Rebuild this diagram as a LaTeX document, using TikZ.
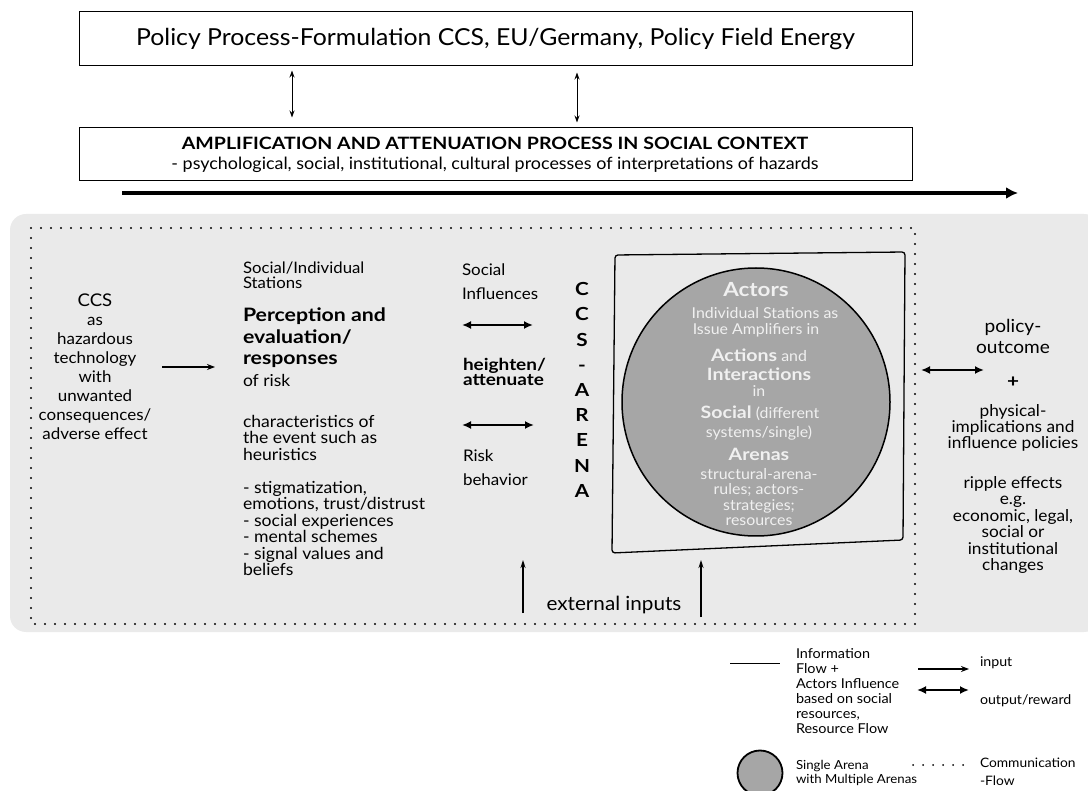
\documentclass[tikz,border=0pt]{standalone}
\usepackage{fontspec}
\setmainfont{Lato}[FakeStretch=1.06]
\newfontfamily\widefam{Lato}[FakeStretch=1.15]
\usetikzlibrary{arrows.meta,calc}
\definecolor{panelgrey}{HTML}{EAEAEA}
\definecolor{arenagrey}{HTML}{A6A6A6}
\definecolor{arenatext}{HTML}{F0F0F0}
\newcommand{\fs}[2]{\fontsize{#1}{#2}\selectfont}
\newcommand{\bfw}{\widefam\bfseries}
\begin{document}
\begin{tikzpicture}[x=1pt,y=-1pt,
  txt/.style={inner sep=0pt, outer sep=0pt, text=black},
  boxnode/.style={draw, line width=1pt, inner sep=0pt, fill=white},
  thindbl/.style={{Stealth[length=7pt,width=5pt]}-{Stealth[length=7pt,width=5pt]}, line width=1pt},
  thickdbl/.style={{Latex[length=9pt,width=8pt]}-{Latex[length=9pt,width=8pt]}, line width=2pt},
  inarrow/.style={-{Stealth[length=8pt,width=6pt]}, line width=1.3pt},
  uparrow/.style={-{Stealth[length=8pt,width=5pt]}, line width=1.3pt},
  dotline/.style={line width=2.4pt, line cap=round, dash pattern=on 0pt off 10pt},
  ctext/.style={txt, text=arenatext, align=center}
]
\useasboundingbox (0,0) rectangle (1088,791);

% header boxes
\node[boxnode, minimum width=833pt, minimum height=54pt] (policy) at (495.5,39)
  {\fs{23.4}{28}Policy Process-Formulation CCS, EU/Germany, Policy Field Energy};
\node[boxnode, minimum width=833pt, minimum height=53pt] (amp) at (495.5,154.5) {};
\node[txt] (amptitle) at (495,143) {\fs{17}{20}\bfw AMPLIFICATION AND ATTENUATION PROCESS IN SOCIAL CONTEXT};
\node[txt] (ampsub) at (495,165) {\fs{16.9}{19}- psychological, social, institutional, cultural processes of interpretations of hazards};

\draw[thindbl] ([xshift=-203.5pt,yshift=-4pt]policy.south) -- ([xshift=-203.5pt,yshift=10pt]amp.north);
\draw[thindbl] ([xshift=81.5pt,yshift=-6pt]policy.south) -- ([xshift=81.5pt,yshift=5pt]amp.north);

\coordinate (flowstart) at (122,193);
\coordinate (flowend) at (1018,193);
\draw[line width=4pt, -{Latex[length=12pt,width=12pt]}] (flowstart) -- (flowend);

% main panel
\fill[panelgrey, rounded corners=16pt] (10,214) rectangle (1100,632);
\draw[dotline] (31,228) rectangle (915,624);

% hazard source
\node[txt, align=center, font=\fs{16}{19}] (ccs) at (95,367)
  {{\fs{17.5}{19}CCS}\\ as\\ hazardous\\ technology\\ with\\ unwanted\\ consequences/\\ adverse effect};
\coordinate (ccsout) at (162,367);
\coordinate (percin) at (215,367);
\draw[inarrow] (ccsout) -- (percin);

% perception column
\node[txt, anchor=north west, align=left, font=\fs{15.8}{15}] (stations) at (243,262)
  {Social/Individual\\Stations};
\node[txt, anchor=north west, align=left, font=\fs{18.5}{21.5}\bfw] (percep) at (243,308)
  {Perception and\\evaluation/\\responses};
\node[txt, anchor=north west, align=left, font=\fs{16.5}{19}] (ofrisk) at (243,374)
  {of risk};
\node[txt, anchor=north west, align=left, font=\fs{16.6}{16.5}] (charac) at (243,415)
  {characteristics of\\the event such as\\heuristics};
\node[txt, anchor=north west, align=left, font=\fs{16.6}{16.5}] (list) at (243,481)
  {- stigmatization,\\emotions, trust/distrust\\- social experiences\\- mental schemes\\- signal values and\\beliefs};

% influence column
\node[txt, anchor=north west, align=left, font=\fs{16}{24}] (socinf) at (462,264)
  {Social\\Influences};
\node[txt, anchor=north west, align=left, font=\fs{16.5}{15}\bfw] (heighten) at (463,358)
  {heighten/\\attenuate};
\node[txt, anchor=north west, align=left, font=\fs{16}{24}] (riskbeh) at (463,450)
  {Risk\\behavior};
\coordinate (ia1) at (462,325);
\coordinate (ib1) at (533,325);
\coordinate (ia2) at (462,425);
\coordinate (ib2) at (534,425);
\draw[thickdbl] (ia1) -- (ib1);
\draw[thickdbl] (ia2) -- (ib2);

% vertical arena label
\node[txt, align=center, font=\fs{18}{25.2}\bfw] (ccsarena) at (582,390)
  {C\\C\\S\\-\\A\\R\\E\\N\\A};

% arena frame and circle
\draw[line width=1.3pt, rounded corners=3pt] (615,255) -- (905,252) -- (903,540) -- (612,553) -- cycle;
\node[circle, draw, line width=1.5pt, fill=arenagrey, minimum size=268pt, inner sep=0pt] (arena) at (756,402) {};

\node[ctext] (c1) at (756,290) {\fs{19.5}{20}\bfw Actors};
\node[ctext] (c2) at (765,313) {\fs{15}{16}Individual Stations as};
\node[ctext] (c3) at (756,330) {\fs{15}{16}Issue Amplifiers in};
\node[ctext] (c4) at (759,355) {\fs{15}{16}{\fs{17}{16}\bfw Actions} and};
\node[ctext] (c5) at (759,374) {\fs{17}{16}\bfw Interactions};
\node[ctext] (c6) at (759,391) {\fs{15}{16}in};
\node[ctext] (c7) at (760,413) {\fs{15}{16}{\fs{17}{16}\bfw Social} (different};
\node[ctext] (c8) at (759,433) {\fs{15}{16}systems/single)};
\node[ctext] (c9) at (759,454) {\fs{17}{16}\bfw Arenas};
\node[ctext] (c10) at (759,474) {\fs{15}{16}structural-arena-};
\node[ctext] (c11) at (759,490) {\fs{15}{16}rules; actors-};
\node[ctext] (c12) at (759,506) {\fs{15}{16}strategies;};
\node[ctext] (c13) at (759,522) {\fs{15}{16}resources};

% outcomes
\node[txt, align=center, font=\fs{18}{21}] (outcome) at (1013,336.5) {policy-\\outcome};
\node[txt, font=\fs{18}{20}\bfw] (plus) at (1013,382) {+};
\node[txt, align=center, font=\fs{16.3}{16}] (phys) at (1013,428) {physical-\\implications and\\influence policies};
\node[txt, align=center, font=\fs{16.3}{16.4}] (ripple) at (1013,525) {ripple effects\\e.g.\\economic, legal,\\social or\\institutional\\changes};
\coordinate (outa) at (921,370);
\coordinate (outb) at (984,370);
\draw[thickdbl] (outa) -- (outb);

% external inputs
\node[txt, font=\fs{19.5}{20}] (ext) at (614,605) {external inputs};
\coordinate (ex1a) at (523,613);
\coordinate (ex1b) at (523,560);
\coordinate (ex2a) at (701,617);
\coordinate (ex2b) at (701,560);
\draw[uparrow] (ex1a) -- (ex1b);
\draw[uparrow] (ex2a) -- (ex2b);

% legend
\coordinate (lga) at (730,663);
\coordinate (lgb) at (780,663);
\draw[line width=1pt] (lga) -- (lgb);
\node[txt, anchor=north west, align=left, font=\fs{13.6}{15}] (lgflow) at (796,649)
  {Information\\Flow +\\Actors Influence\\based on social\\resources,\\Resource Flow};
\coordinate (lia) at (918,669);
\coordinate (lib) at (969,669);
\draw[inarrow, line width=1.5pt] (lia) -- (lib);
\node[txt, anchor=west, font=\fs{13.4}{15}] (lginput) at (980,663) {input};
\coordinate (loa) at (917,690);
\coordinate (lob) at (969,690);
\draw[thickdbl] (loa) -- (lob);
\node[txt, anchor=west, font=\fs{13.4}{15}] (lgout) at (980,701) {output/reward};
\node[circle, draw, line width=1.8pt, fill=arenagrey, minimum size=45pt, inner sep=0pt] (lgcircle) at (760,773) {};
\node[txt, anchor=north west, align=left, font=\fs{12.5}{14}] (lgarena) at (796,760)
  {Single Arena\\with Multiple Arenas};
\coordinate (lda) at (913,765);
\coordinate (ldb) at (967,765);
\draw[dotline, line width=2pt] (lda) -- (ldb);
\node[txt, anchor=north west, align=left, font=\fs{13}{18}] (lgcomm) at (980,758)
  {Communication\\-Flow};
\end{tikzpicture}
\end{document}
